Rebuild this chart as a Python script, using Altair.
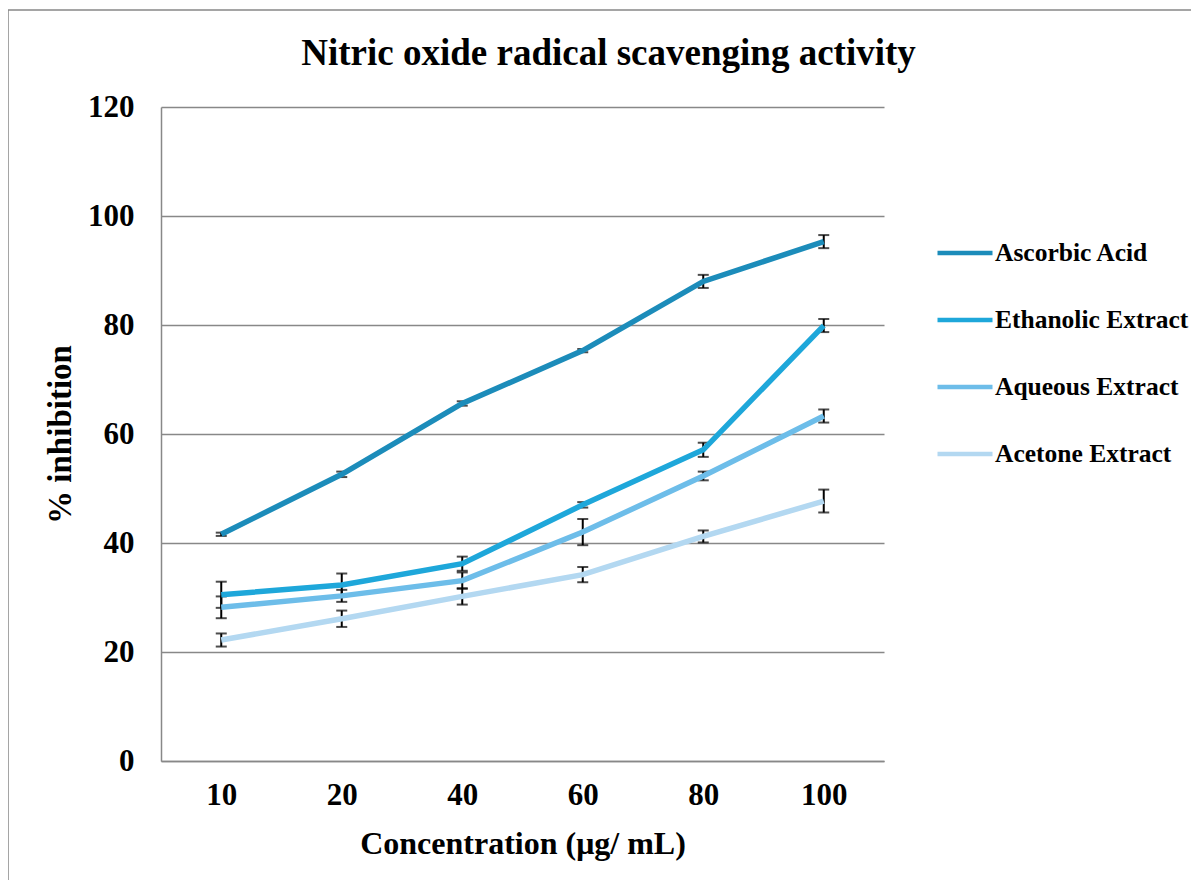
import altair as alt
import pandas as pd

conc = ["10", "20", "40", "60", "80", "100"]
series = ["Ascorbic Acid", "Ethanolic Extract", "Aqueous Extract", "Acetone Extract"]
ascorbic = [41.6, 52.6, 65.6, 75.3, 88.0, 95.3]
ascorbic_err = [0.3, 0.5, 0.4, 0.3, 1.2, 1.2]
ethanolic = [30.5, 32.3, 36.2, 47.0, 57.1, 79.9]
ethanolic_err = [2.4, 2.1, 1.3, 0.5, 1.3, 1.2]
aqueous = [28.2, 30.3, 33.1, 42.0, 52.3, 63.3]
aqueous_err = [2.0, 1.1, 1.5, 2.4, 0.8, 1.2]
acetone = [22.2, 26.1, 30.2, 34.2, 41.2, 47.7]
acetone_err = [1.2, 1.5, 1.5, 1.4, 1.1, 2.1]
colors = ["#1C8CBA", "#1EA7DA", "#6DBDE9", "#B3D8F1"]

rows = []
for name, vals, errs in zip(series,
                            [ascorbic, ethanolic, aqueous, acetone],
                            [ascorbic_err, ethanolic_err, aqueous_err, acetone_err]):
    for i, (c, v, e) in enumerate(zip(conc, vals, errs)):
        rows.append({"conc": c, "idx": i, "series": name, "value": v, "lo": v - e, "hi": v + e})
df = pd.DataFrame(rows)

FONT = "Liberation Serif"

x_enc = alt.X("conc:O", sort=conc, scale=alt.Scale(type="point", padding=0.5),
              axis=alt.Axis(title="Concentration (μg/ mL)", labelAngle=0, ticks=False,
                            labelPadding=19, titlePadding=18, titleFontSize=32,
                            domainColor="#888888", domainWidth=1.5, grid=False))
y_scale = alt.Scale(domain=[0, 120])

base = alt.Chart(df)

bars = base.mark_rule(color="black", strokeWidth=2).encode(
    x=x_enc,
    y=alt.Y("lo:Q", scale=y_scale),
    y2="hi:Q",
)
caps_lo = base.mark_tick(color="black", thickness=2, size=11).encode(
    x=x_enc, y=alt.Y("lo:Q", scale=y_scale))
caps_hi = base.mark_tick(color="black", thickness=2, size=11).encode(
    x=x_enc, y=alt.Y("hi:Q", scale=y_scale))

lines = base.mark_line(strokeWidth=5.5).encode(
    x=x_enc,
    y=alt.Y("value:Q", scale=y_scale,
            axis=alt.Axis(title="% inhibition", values=[0, 20, 40, 60, 80, 100, 120],
                          ticks=False, labelPadding=27, titlePadding=10, titleFontSize=33,
                          gridColor="#888888", gridWidth=1.5,
                          domainColor="#888888", domainWidth=1.5)),
    color=alt.Color("series:N", sort=series,
                    scale=alt.Scale(domain=series, range=colors),
                    legend=alt.Legend(orient="none", legendX=774, legendY=116, title=None,
                                      symbolType="stroke", symbolSize=3025,
                                      symbolStrokeWidth=4.5, labelFont=FONT,
                                      labelFontSize=25.5, labelFontWeight="bold",
                                      labelColor="black", rowPadding=23, padding=0,
                                      labelOffset=0, labelLimit=400)),
    order=alt.Order("idx:Q"),
)

border = alt.Chart(alt.Data(values=[{}])).mark_rect(
    fill=None, stroke="#888888", strokeWidth=1.5).encode(
    x=alt.value(-153), x2=alt.value(1200), y=alt.value(-97), y2=alt.value(900))

chart = alt.layer(border, bars, caps_lo, caps_hi, lines).properties(
    width=723, height=654,
    title=alt.Title("Nitric oxide radical scavenging activity", fontSize=37,
                    font=FONT, fontWeight="bold", color="black", offset=-64, dx=86),
    autosize=alt.AutoSizeParams(type="none"),
    padding={"left": 153, "top": 99, "right": 307, "bottom": 119},
    background="white",
).configure_axis(
    labelFont=FONT, labelFontSize=31, labelFontWeight="bold", labelColor="black",
    titleFont=FONT, titleFontWeight="bold", titleColor="black",
).configure_view(stroke=None)

chart.save("out.html", embed_options={"renderer": "svg", "actions": False})
